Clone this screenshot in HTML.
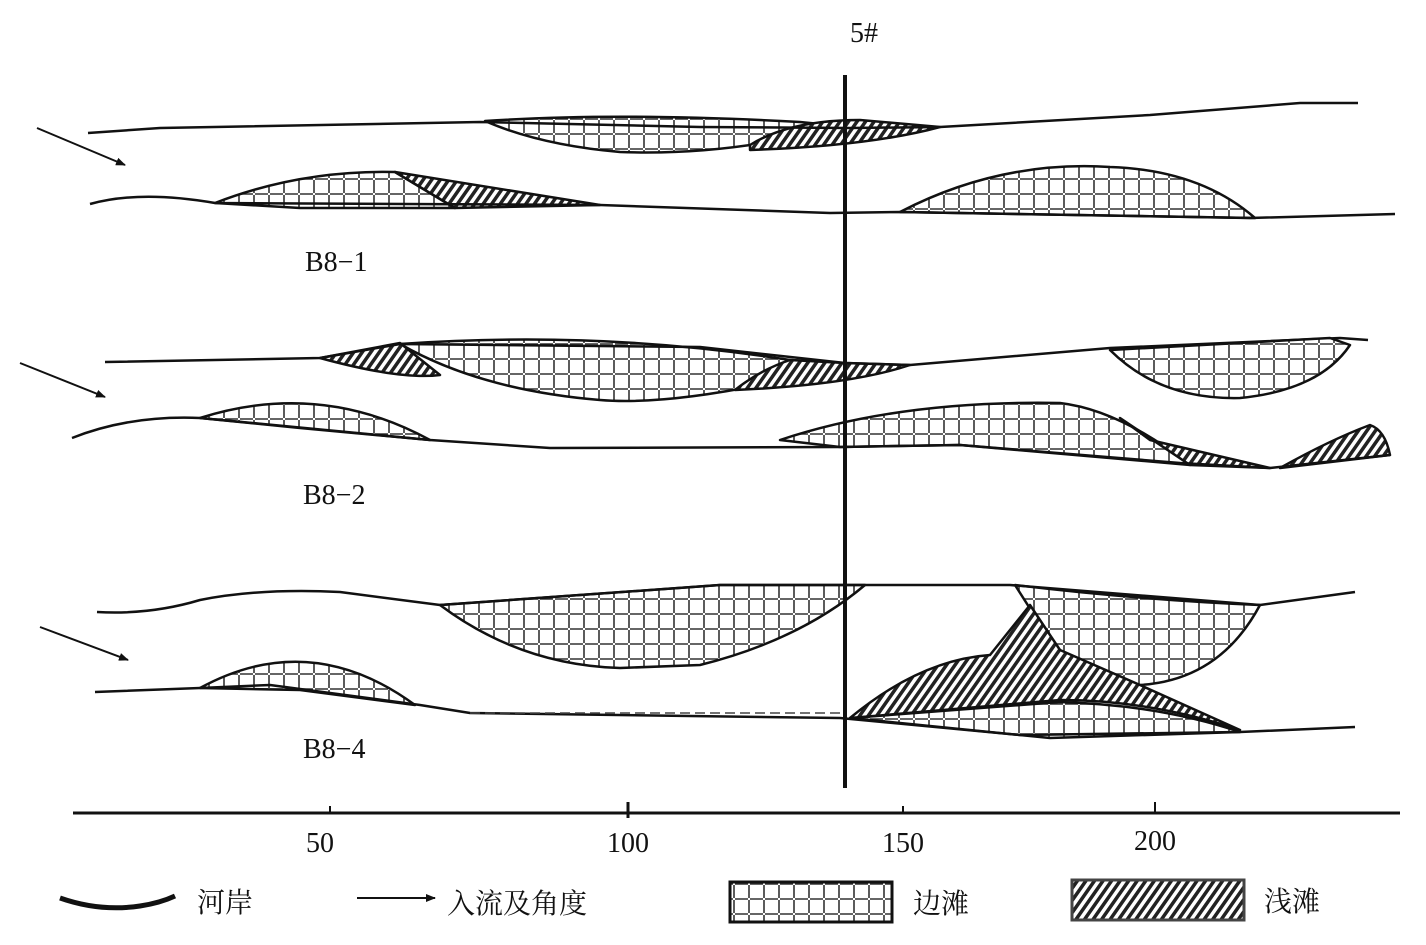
<!DOCTYPE html>
<html><head><meta charset="utf-8"><style>
html,body{margin:0;padding:0;background:#fff;}
svg{display:block;}
text{font-family:"Liberation Serif","Noto Serif CJK SC",serif;fill:#111;}
</style></head><body>
<svg width="1426" height="945" viewBox="0 0 1426 945" xmlns="http://www.w3.org/2000/svg">
<defs>
<pattern id="g" width="15" height="15" patternUnits="userSpaceOnUse">
<rect width="15" height="15" fill="#fff"/>
<path d="M0 14 H13 M14 0 V13" stroke="#333" stroke-width="1.6" fill="none"/>
</pattern>
<pattern id="h" width="7" height="7" patternUnits="userSpaceOnUse" patternTransform="rotate(35)">
<rect width="7" height="7" fill="#fff"/>
<rect width="3.5" height="7" fill="#222"/>
</pattern>
<marker id="ar" markerWidth="10" markerHeight="8" refX="9" refY="4" orient="auto" markerUnits="userSpaceOnUse">
<path d="M0,0 L10,4 L0,8 Z" fill="#111"/>
</marker>
</defs>
<g stroke="#111" stroke-width="2.5" stroke-linejoin="round">
<!-- B8-1 -->
<path d="M485,121 Q620,112 800,122 L850,127 L780,140 Q700,155 620,152 Q540,145 485,121 Z" fill="url(#g)"/>
<path d="M750,145 Q790,120 860,120 L940,127 Q870,146 750,150 Z" fill="url(#h)"/>
<path d="M88,133 L160,128 L480,122 L700,127 L850,128 L940,127 L1150,115 L1300,103 L1358,103" fill="none"/>
<path d="M215,203 Q300,170 395,172 L455,208 L300,208 Z" fill="url(#g)"/>
<path d="M395,172 L600,205 L455,208 Z" fill="url(#h)"/>
<path d="M900,212 Q1000,160 1110,167 Q1200,170 1255,218 Z" fill="url(#g)"/>
<path d="M90,204 Q140,190 215,203 L600,205 L830,213 L900,212 L1250,218 L1395,214" fill="none"/>
<!-- B8-2 -->
<path d="M400,344 Q600,330 790,360 L845,363 L760,385 Q660,405 600,400 Q480,390 400,344 Z" fill="url(#g)"/>
<path d="M320,358 L400,343 L440,375 Q400,380 320,358 Z" fill="url(#h)"/>
<path d="M735,390 Q760,370 790,360 L845,363 L910,365 Q850,385 735,390 Z" fill="url(#h)"/>
<path d="M105,362 L320,358 L400,344 L700,347 L845,363 L910,365 L1110,348 L1340,338 L1368,340" fill="none"/>
<path d="M1110,350 Q1160,400 1240,398 Q1320,390 1350,345 L1330,338 Z" fill="url(#g)"/>
<path d="M200,418 Q320,380 430,440 L300,428 Z" fill="url(#g)"/>
<path d="M780,440 Q900,400 1060,403 Q1120,410 1190,465 L960,445 L840,447 Z" fill="url(#g)"/>
<path d="M1120,418 L1190,465 L1270,468 L1150,440 Z" fill="url(#h)"/>
<path d="M1280,468 Q1330,440 1370,425 Q1385,430 1390,455 Z" fill="url(#h)"/>
<path d="M72,438 Q130,415 200,418 L430,440 L550,448 L840,447 L960,445 L1180,463 L1270,468 L1390,455" fill="none"/>
<!-- B8-4 -->
<path d="M440,605 L720,585 L865,585 Q800,640 700,665 L620,668 Q520,665 440,605 Z" fill="url(#g)"/>
<path d="M1015,585 Q1140,600 1260,605 Q1220,680 1140,685 Q1080,675 1050,640 Z" fill="url(#g)"/>
<path d="M850,718 L1060,702 Q1160,705 1240,732 L1050,738 Z" fill="url(#g)"/>
<path d="M990,655 L1030,605 L1060,650 L1140,685 L1240,730 Q1150,700 1060,700 L850,718 Q920,660 990,655 Z" fill="url(#h)"/>
<path d="M97,612 Q150,615 200,600 Q260,588 340,592 L440,605 L720,585 L1010,585 L1260,605 L1355,592" fill="none"/>
<path d="M200,688 Q310,628 415,705 L300,690 Z" fill="url(#g)"/>
<path d="M95,692 L200,688 L270,685 L420,705 L470,713 L840,718 L1020,735 L1240,732 L1355,727" fill="none"/>
</g>
<line x1="470" y1="713" x2="840" y2="713" stroke="#444" stroke-width="1.5" stroke-dasharray="10,5"/>
<g stroke="#111" stroke-width="2">
<line x1="37" y1="128" x2="125" y2="165" marker-end="url(#ar)"/>
<line x1="20" y1="363" x2="105" y2="397" marker-end="url(#ar)"/>
<line x1="40" y1="627" x2="128" y2="660" marker-end="url(#ar)"/>
</g>
<line x1="845" y1="75" x2="845" y2="788" stroke="#111" stroke-width="4"/>
<text x="850" y="42" font-size="28">5#</text>
<text x="305" y="271" font-size="28">B8−1</text>
<text x="303" y="504" font-size="28">B8−2</text>
<text x="303" y="758" font-size="28">B8−4</text>
<g stroke="#111">
<line x1="73" y1="813" x2="1400" y2="813" stroke-width="3"/>
<line x1="330" y1="806" x2="330" y2="813" stroke-width="2"/>
<line x1="628" y1="802" x2="628" y2="818" stroke-width="3"/>
<line x1="903" y1="806" x2="903" y2="813" stroke-width="2"/>
<line x1="1155" y1="802" x2="1155" y2="813" stroke-width="2"/>
</g>
<g font-size="28" text-anchor="middle">
<text x="320" y="852">50</text><text x="628" y="852">100</text><text x="903" y="852">150</text><text x="1155" y="850">200</text>
</g>
<path d="M60,898 Q100,912 140,906 Q160,903 175,896" fill="none" stroke="#111" stroke-width="5"/>
<text x="197" y="912" font-size="28">河岸</text>
<line x1="357" y1="898" x2="435" y2="898" stroke="#111" stroke-width="2" marker-end="url(#ar)"/>
<text x="447" y="913" font-size="28">入流及角度</text>
<rect x="730" y="882" width="162" height="40" fill="url(#g)" stroke="#111" stroke-width="3"/>
<text x="913" y="913" font-size="28">边滩</text>
<rect x="1072" y="880" width="172" height="40" fill="url(#h)" stroke="#444" stroke-width="3"/>
<text x="1264" y="911" font-size="28">浅滩</text>
</svg>
</body></html>
